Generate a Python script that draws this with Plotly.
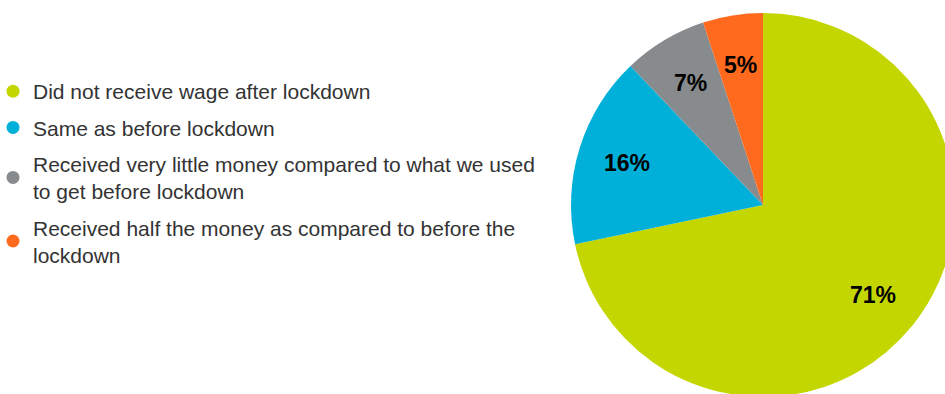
import math
import plotly.graph_objects as go

# Wage situation after lockdown (share of respondents, %)
categories = [
    "Did not receive wage after lockdown",
    "Same as before lockdown",
    "Received very little money compared to what we used<br>to get before lockdown",
    "Received half the money as compared to before the<br>lockdown",
]
shares = [71, 16, 7, 5]
colors = ["#C4D600", "#00B0D8", "#888B8D", "#FF6A1F"]

W, H = 956, 398
# pie placement in pixels (left, right, top, bottom)
PX0, PX1, PY0, PY1 = 571, 955, 13, 397
LABEL_RADIUS = 0.74  # fraction of the pie radius where value labels sit

fig = go.Figure()

fig.add_trace(go.Pie(
    labels=categories,
    values=shares,
    marker=dict(colors=colors, line=dict(width=0)),
    sort=False,
    direction="clockwise",
    rotation=0,
    textinfo="none",
    showlegend=False,
    hoverinfo="label+value",
    domain=dict(x=[PX0 / W, PX1 / W], y=[1 - PY1 / H, 1 - PY0 / H]),
))

# Value labels placed at the middle angle of each slice
cx = (PX0 + PX1) / 2
cy = (PY0 + PY1) / 2
r = (PX1 - PX0) / 2
total = sum(shares)
cum = 0
for v in shares:
    mid = (cum + v / 2) / total * 2 * math.pi
    cum += v
    lx = cx + r * LABEL_RADIUS * math.sin(mid)
    ly = cy - r * LABEL_RADIUS * math.cos(mid)
    fig.add_annotation(
        x=lx / W, y=1 - ly / H, xref="paper", yref="paper",
        text=f"<b>{v}%</b>", showarrow=False,
        xanchor="center", yanchor="middle",
        font=dict(family="Liberation Sans, Arial", size=23, color="#000000"),
    )

# Legend entries with round markers
for i, (name, col) in enumerate(zip(categories, colors)):
    fig.add_trace(go.Scatter(
        x=[None], y=[None], mode="markers", name=name,
        legendgroup=f"g{i}",
        marker=dict(symbol="circle", size=13, color=col),
    ))

fig.update_layout(
    width=W, height=H,
    margin=dict(l=0, r=0, t=0, b=0, autoexpand=False),
    paper_bgcolor="white", plot_bgcolor="white",
    xaxis=dict(visible=False), yaxis=dict(visible=False),
    legend=dict(
        x=-7 / W, y=1 - 71 / H, xanchor="left", yanchor="top",
        font=dict(family="Liberation Sans, Arial", size=21, color="#333333"),
        tracegroupgap=6, itemwidth=30,
    ),
)

fig.write_html("out.html", post_script="document.body.style.overflow='hidden';")
